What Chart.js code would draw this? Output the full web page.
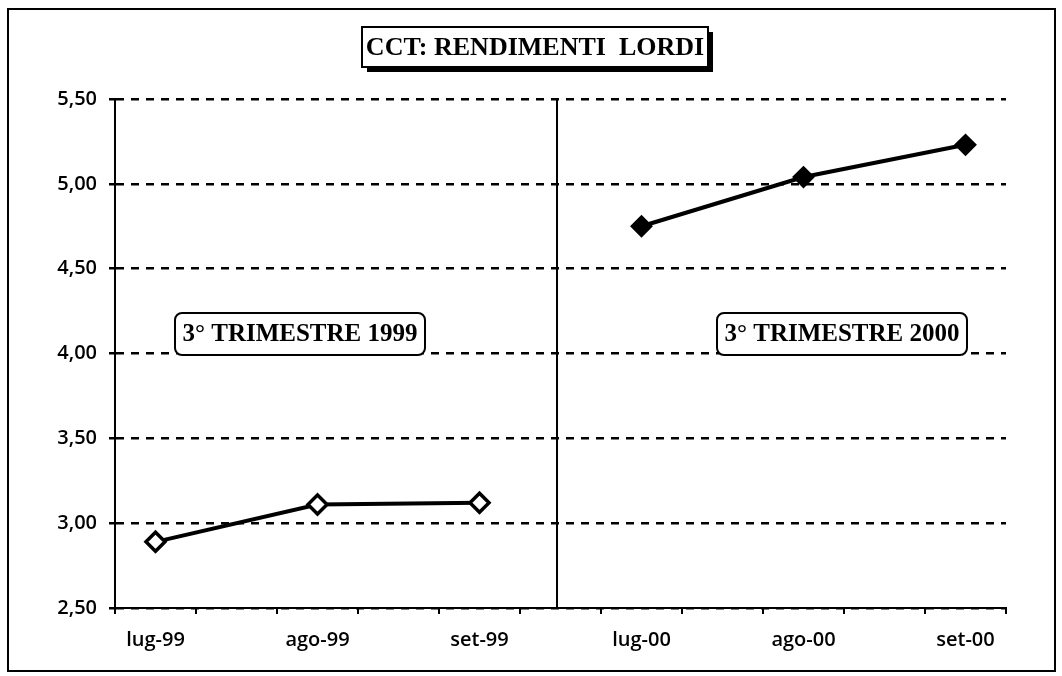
<!DOCTYPE html>
<html>
<head>
<meta charset="utf-8">
<title>CCT: rendimenti lordi</title>
<script src="https://cdn.jsdelivr.net/npm/chart.js@4/dist/chart.umd.min.js"></script>
<style>
  html, body { margin: 0; padding: 0; background: #fff; }
  #wrap { width: 1062px; height: 676px; position: relative; }
</style>
</head>
<body>
<div id="wrap"><canvas id="cct"></canvas></div>
<script>
// categorie (le colonne vuote fanno da spazio tra i due trimestri)
const CATEGORIES = ['lug-99', '', 'ago-99', '', 'set-99', '', 'lug-00', '', 'ago-00', '', 'set-00'];
const TRIM_1999 = [2.89, null, 3.11, null, 3.12, null, null, null, null, null, null];
const TRIM_2000 = [null, null, null, null, null, null, 4.75, null, 5.04, null, 5.23];
const Y_MIN = 2.5;
const Y_MAX = 5.5;
const Y_STEP = 0.5;
const DIVIDER_AT = 5;

const TICK_FONT = { family: "'Open Sans', 'Liberation Sans', sans-serif", size: 20, weight: '600' };
const SERIF = "'Liberation Serif', 'Times New Roman', serif";

function roundRect(ctx, x, y, w, h, r) {
  ctx.beginPath();
  ctx.moveTo(x + r, y);
  ctx.arcTo(x + w, y, x + w, y + h, r);
  ctx.arcTo(x + w, y + h, x, y + h, r);
  ctx.arcTo(x, y + h, x, y, r);
  ctx.arcTo(x, y, x + w, y, r);
  ctx.closePath();
}

function labelBox(ctx, text, cx, cy, w, h) {
  ctx.save();
  roundRect(ctx, cx - w / 2, cy - h / 2, w, h, 7);
  ctx.fillStyle = '#fff';
  ctx.fill();
  ctx.lineWidth = 2;
  ctx.strokeStyle = '#000';
  ctx.stroke();
  ctx.fillStyle = '#000';
  ctx.font = 'bold 25px ' + SERIF;
  ctx.textAlign = 'center';
  ctx.textBaseline = 'middle';
  ctx.fillText(text, cx, cy + 1);
  ctx.restore();
}

const decor = {
  id: 'decor',
  beforeDraw(c) {
    const ctx = c.ctx;
    ctx.save();
    // cornice esterna
    ctx.lineWidth = 2;
    ctx.strokeStyle = '#000';
    ctx.strokeRect(8, 9, 1047, 662);
    // titolo con ombra
    ctx.fillStyle = '#000';
    ctx.fillRect(367, 32, 346, 40);
    ctx.fillStyle = '#fff';
    ctx.fillRect(362, 27, 346, 40);
    ctx.strokeRect(362, 27, 346, 40);
    ctx.fillStyle = '#000';
    ctx.font = 'bold 26px ' + SERIF;
    ctx.textAlign = 'center';
    ctx.textBaseline = 'middle';
    ctx.fillText('CCT: RENDIMENTI  LORDI', 535, 48);
    ctx.restore();
  },
  beforeDatasetsDraw(c) {
    const { ctx, chartArea, scales } = c;
    const x = Math.round(scales.x.getPixelForValue(DIVIDER_AT)) - 4;
    ctx.save();
    ctx.lineWidth = 2;
    ctx.strokeStyle = '#000';
    ctx.beginPath();
    ctx.moveTo(x, chartArea.top);
    ctx.lineTo(x, chartArea.bottom);
    ctx.stroke();
    ctx.restore();
  },
  afterDraw(c) {
    const ctx = c.ctx;
    labelBox(ctx, '3° TRIMESTRE 1999', 300, 334, 250, 42);
    labelBox(ctx, '3° TRIMESTRE 2000', 842, 334, 250, 42);
  },
};

new Chart(document.getElementById('cct'), {
  type: 'line',
  data: {
    labels: CATEGORIES,
    datasets: [
      {
        label: '3° trimestre 1999',
        data: TRIM_1999,
        spanGaps: true,
        borderColor: '#000',
        borderWidth: 4,
        pointStyle: 'rectRot',
        pointRadius: 9.5,
        pointHoverRadius: 9.5,
        pointBorderWidth: 3.5,
        pointBackgroundColor: '#fff',
        pointBorderColor: '#000',
      },
      {
        label: '3° trimestre 2000',
        data: TRIM_2000,
        spanGaps: true,
        borderColor: '#000',
        borderWidth: 4,
        pointStyle: 'rectRot',
        pointRadius: 10,
        pointHoverRadius: 10,
        pointBorderWidth: 2,
        pointBackgroundColor: '#000',
        pointBorderColor: '#000',
      },
    ],
  },
  options: {
    responsive: true,
    maintainAspectRatio: false,
    animation: false,
    layout: { padding: { top: 99, right: 56, left: 0, bottom: 0 } },
    plugins: { legend: { display: false }, tooltip: { enabled: false } },
    scales: {
      x: {
        offset: true,
        afterFit: (s) => { s.height = 68; },
        grid: { drawOnChartArea: false, offset: true, tickLength: 6, color: '#000', lineWidth: 2 },
        border: { color: '#000', width: 2 },
        ticks: { autoSkip: false, maxRotation: 0, padding: 14, color: '#000', font: TICK_FONT },
      },
      y: {
        min: Y_MIN,
        max: Y_MAX,
        afterFit: (s) => { s.width = 115; },
        grid: { color: '#000', lineWidth: 2.5, tickLength: 6 },
        border: { color: '#000', width: 2, dash: [8, 7] },
        ticks: {
          stepSize: Y_STEP,
          padding: 12,
          color: '#000',
          font: TICK_FONT,
          callback: (v) => Number(v).toFixed(2).replace('.', ','),
        },
      },
    },
  },
  plugins: [decor],
});
</script>
</body>
</html>
